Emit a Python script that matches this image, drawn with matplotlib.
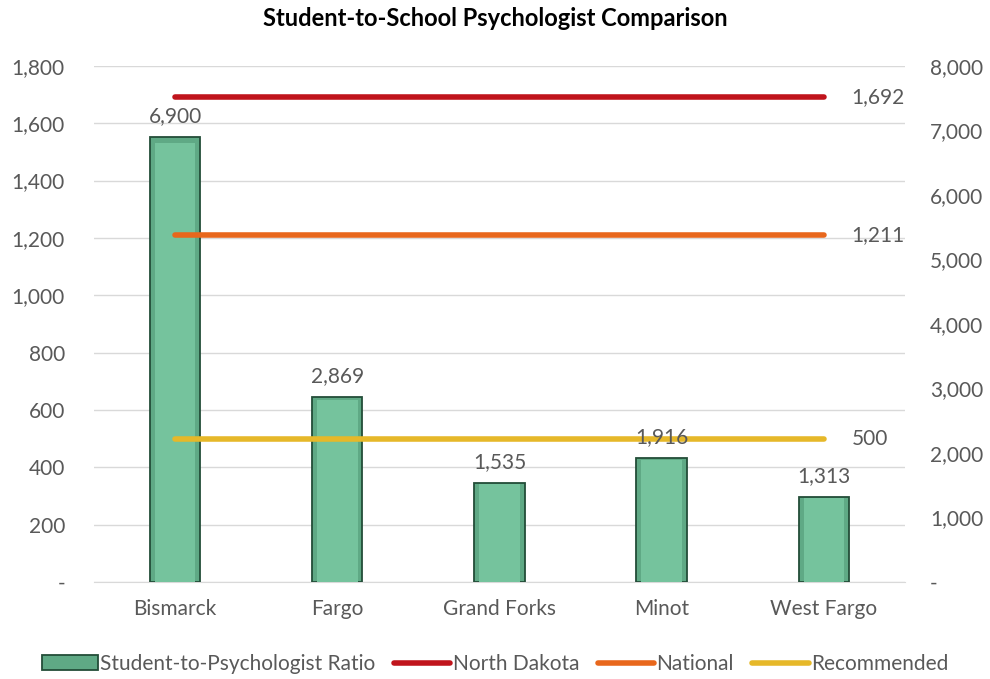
import matplotlib.pyplot as plt
import numpy as np

cities = ['Bismarck', 'Fargo', 'Grand Forks', 'Minot', 'West Fargo']
ratios = [6900, 2869, 1535, 1916, 1313]
line_names = ['North Dakota', 'National', 'Recommended']
line_values = [1692, 1211, 500]
line_colors = ['#c0141c', '#e8671c', '#e6b829']
left_ticks = np.arange(0, 1801, 200)
right_ticks = np.arange(0, 8001, 1000)

plt.rcParams['font.family'] = ['Lato', 'DejaVu Sans']
txt = '#595959'
fs = 15

fig = plt.figure(figsize=(9.9, 6.79), dpi=100)
ax = fig.add_axes([0.095, 0.143, 0.819, 0.760])
ax2 = ax.twinx()

x = np.arange(len(cities))

# bars on the secondary (right) axis, with a lighter inner face for a bevel look
bars = ax2.bar(x, ratios, width=0.31, color='#5fa985', edgecolor='#234d38',
               linewidth=1.3, zorder=2, label='Student-to-Psychologist Ratio')
ax2.bar(x, [v * 0.985 for v in ratios], width=0.25, color='#75c39d',
        edgecolor='none', zorder=2.1)
for xi, v in zip(x, ratios):
    ax2.annotate(f'{v:,}', (xi, v), xytext=(0, 8), textcoords='offset points',
                 ha='center', va='bottom', fontsize=fs, color=txt, zorder=5)

# horizontal reference lines (left-axis values, scaled onto the right axis)
handles = [bars]
for name, val, col in zip(line_names, line_values, line_colors):
    l, = ax2.plot([x[0], x[-1]], [val * 8000 / 1800] * 2, color=col, lw=4,
                  solid_capstyle='round', zorder=3, label=name)
    handles.append(l)
    ax2.annotate(f'{val:,}', (x[-1], val * 8000 / 1800), xytext=(20, 0),
                 textcoords='offset points', ha='left', va='center',
                 fontsize=fs, color=txt)

ax.set_xlim(-0.5, len(cities) - 0.5)
ax.set_ylim(0, 1800)
ax2.set_ylim(0, 8000)
ax.set_xticks(x)
ax.set_xticklabels(cities, fontsize=fs, color=txt)
ax.set_yticks(left_ticks)
ax.set_yticklabels(['-'] + [f'{t:,}' for t in left_ticks[1:]], fontsize=fs, color=txt)
ax2.set_yticks(right_ticks)
ax2.set_yticklabels(['-'] + [f'{t:,}' for t in right_ticks[1:]], fontsize=fs, color=txt)

ax.grid(axis='y', color='#d9d9d9', lw=1)
ax.set_axisbelow(True)
for a in (ax, ax2):
    for s in a.spines.values():
        s.set_visible(False)
    a.tick_params(length=0)
ax.tick_params(axis='y', pad=21)
ax2.tick_params(axis='y', pad=18)
ax.tick_params(axis='x', pad=12)
ax.spines['bottom'].set_visible(True)
ax.spines['bottom'].set_color('#d9d9d9')

fig.suptitle('Student-to-School Psychologist Comparison', y=0.99,
             fontsize=17, fontweight='bold', color='black')

fig.legend(handles=handles, labels=[h.get_label() for h in handles],
           loc='lower center', bbox_to_anchor=(0.5, -0.02), ncol=4, frameon=False,
           fontsize=fs, labelcolor=txt, handlelength=2.7, handletextpad=0.1,
           columnspacing=0.9)

fig.savefig('out.png', dpi=100)
